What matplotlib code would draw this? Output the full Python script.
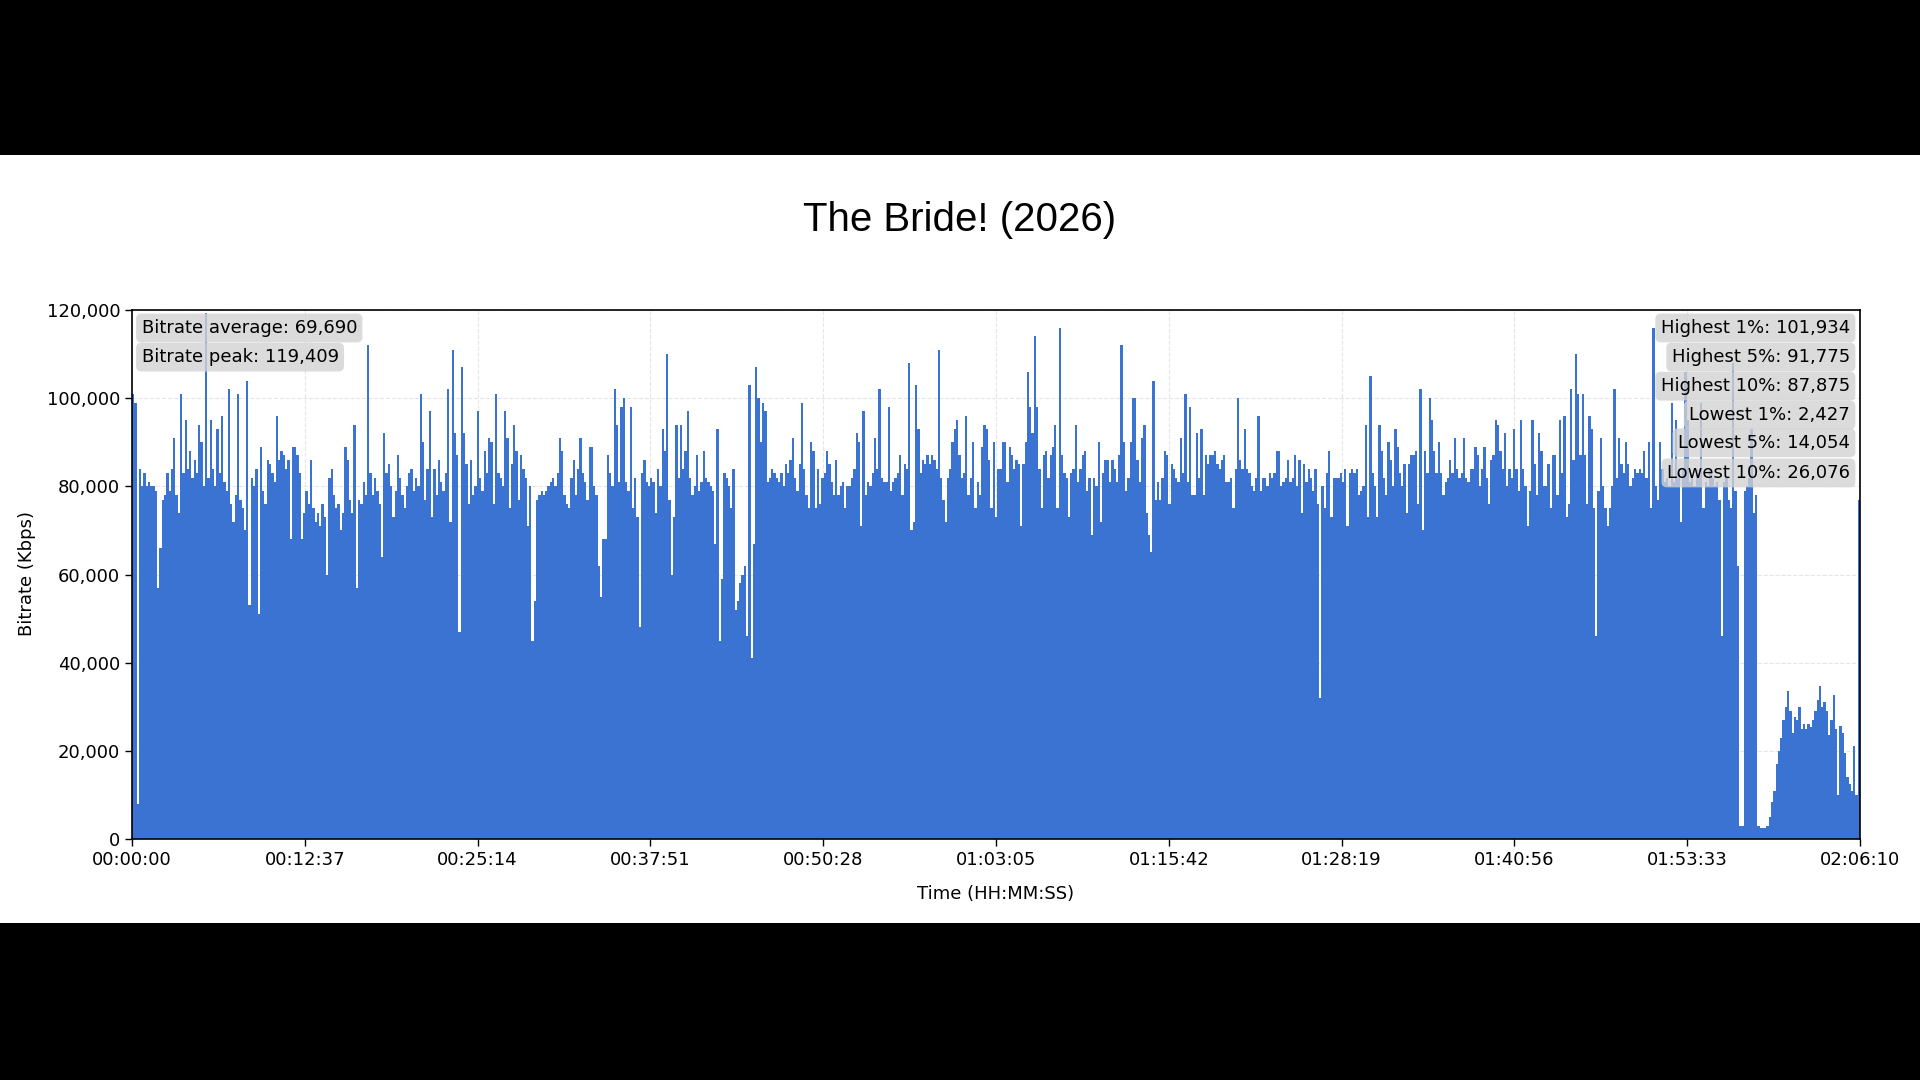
import numpy as np
import matplotlib
matplotlib.use('Agg')
import matplotlib.pyplot as plt
from matplotlib.patches import Rectangle
from matplotlib.ticker import FuncFormatter

title = 'The Bride! (2026)'
duration_s = 7570
sample_step_s = 10

# bitrate per 10 s sample, in thousands of Kbps, one line per 10 minutes
bitrate_k = [
    101, 99, 8, 84, 80, 83, 80, 81, 80, 80, 79, 57, 66, 77, 78, 83, 79, 84, 91, 78,
    74, 101, 83, 95, 84, 88, 82, 86, 83, 94, 90, 80, 119.409, 82, 95, 84, 80, 93, 83, 96,
    81, 79, 102, 76, 72, 78, 101, 77, 75, 70, 104, 53, 82, 80, 84, 51, 89, 79, 76, 86,
    # 00:10:00
    85, 83, 81, 96, 86, 88, 87, 84, 86, 68, 89, 89, 87, 83, 68, 74, 79, 76, 86, 75,
    72, 74, 71, 76, 73, 60, 82, 84, 78, 75, 76, 70, 74, 89, 86, 77, 74, 94, 57, 77,
    76, 81, 78, 112, 83, 78, 82, 79, 76, 64, 92, 83, 85, 80, 73, 79, 87, 82, 78, 75,
    # 00:20:00
    80, 83, 84, 79, 82, 80, 101, 90, 77, 84, 97, 73, 84, 78, 86, 81, 79, 83, 102, 72,
    111, 92, 87, 47, 107, 92, 85, 76, 86, 78, 80, 97, 82, 79, 88, 83, 91, 90, 76, 101,
    83, 82, 80, 97, 91, 75, 85, 94, 88, 77, 87, 84, 82, 71, 80, 45, 54, 77, 78, 79,
    # 00:30:00
    78, 79, 80, 81, 82, 80, 83, 91, 88, 78, 76, 75, 82, 86, 78, 84, 91, 83, 81, 77,
    89, 89, 80, 78, 62, 55, 68, 68, 87, 83, 80, 102, 94, 81, 98, 100, 81, 79, 98, 75,
    82, 73, 48, 83, 86, 81, 80, 82, 81, 74, 84, 80, 93, 88, 110, 77, 60, 73, 94, 82,
    # 00:40:00
    94, 84, 88, 97, 82, 78, 80, 87, 79, 81, 88, 82, 81, 80, 79, 67, 93, 45, 59, 83,
    82, 80, 75, 84, 52, 54, 58, 60, 62, 46, 103, 41, 67, 107, 100, 90, 99, 97, 81, 82,
    84, 83, 82, 81, 83, 80, 85, 83, 86, 91, 82, 79, 85, 99, 84, 78, 75, 90, 88, 75,
    # 00:50:00
    84, 76, 82, 83, 88, 85, 81, 78, 86, 78, 80, 81, 75, 80, 80, 82, 84, 92, 90, 71,
    97, 78, 81, 80, 83, 91, 84, 102, 82, 81, 81, 98, 79, 81, 82, 83, 87, 78, 85, 84,
    108, 70, 72, 103, 93, 83, 86, 85, 87, 85, 87, 86, 84, 111, 82, 77, 72, 82, 84, 90,
    # 01:00:00
    93, 95, 87, 82, 83, 96, 78, 82, 90, 75, 81, 78, 89, 94, 93, 86, 75, 90, 73, 84,
    84, 90, 90, 81, 89, 87, 84, 86, 85, 71, 85, 90, 106, 98, 92, 114, 98, 84, 75, 87,
    88, 82, 87, 89, 94, 75, 116, 87, 83, 82, 73, 83, 84, 94, 81, 84, 87, 88, 79, 82,
    # 01:10:00
    69, 82, 80, 90, 72, 83, 86, 86, 81, 86, 84, 81, 87, 112, 90, 79, 82, 90, 100, 100,
    86, 81, 91, 94, 74, 69, 65, 104, 77, 81, 77, 82, 88, 87, 76, 85, 84, 82, 81, 91,
    83, 101, 81, 98, 78, 78, 92, 82, 93, 78, 87, 85, 87, 87, 88, 85, 84, 86, 87, 81,
    # 01:20:00
    81, 82, 75, 84, 100, 86, 84, 93, 84, 83, 80, 79, 82, 96, 79, 82, 82, 80, 83, 82,
    83, 88, 88, 80, 81, 82, 86, 81, 82, 87, 80, 86, 74, 85, 81, 84, 82, 79, 84, 76,
    32, 80, 75, 83, 88, 73, 82, 82, 82, 83, 81, 84, 71, 83, 84, 83, 84, 78, 79, 80,
    # 01:30:00
    94, 73, 105, 83, 80, 73, 94, 88, 82, 78, 90, 86, 80, 93, 89, 83, 80, 85, 74, 85,
    87, 87, 88, 76, 102, 70, 88, 83, 100, 95, 88, 83, 90, 83, 78, 81, 82, 86, 83, 91,
    84, 82, 83, 91, 82, 81, 84, 84, 89, 87, 80, 84, 89, 82, 76, 86, 87, 95, 94, 88,
    # 01:40:00
    84, 92, 80, 84, 82, 93, 84, 79, 95, 84, 80, 71, 79, 95, 85, 78, 92, 88, 80, 80,
    85, 75, 87, 87, 78, 95, 83, 96, 73, 76, 102, 86, 110, 101, 87, 101, 87, 76, 96, 93,
    75, 46, 79, 91, 80, 75, 71, 75, 80, 102, 82, 91, 85, 83, 90, 85, 80, 82, 84, 83,
    # 01:50:00
    84, 83, 88, 82, 90, 75, 116, 80, 77, 90, 84, 81, 82, 80, 99, 81, 95, 83, 72, 84,
    106, 95, 81, 82, 80, 84, 82, 99, 75, 81, 80, 84, 82, 80, 81, 77, 46, 81, 82, 77,
    75, 108, 79, 62, 3, 3, 79, 80, 82, 93, 74, 78, 3, 2.5, 2.5, 2.5, 3, 5, 8.5, 11,
    # 02:00:00
    17, 20, 23, 27, 30, 33.5, 29, 24, 27.6, 27, 30, 25, 26, 25, 26, 25.5, 27, 29, 31.6, 34.7,
    30, 31, 29, 23.6, 27, 32.7, 25, 10, 25.6, 24, 19.6, 14, 12.5, 11, 21, 10, 77,
]

stats_left = ['Bitrate average: 69,690', 'Bitrate peak: 119,409']
stats_right = ['Highest 1%: 101,934', 'Highest 5%: 91,775', 'Highest 10%: 87,875',
               'Lowest 1%: 2,427', 'Lowest 5%: 14,054', 'Lowest 10%: 26,076']


def hms(sec, pos=None):
    sec = int(round(sec))
    return '{:02d}:{:02d}:{:02d}'.format(sec // 3600, (sec % 3600) // 60, sec % 60)


values = np.array(bitrate_k) * 1000
times = np.arange(len(values)) * sample_step_s

fig = plt.figure(figsize=(19.2, 10.8), dpi=100, facecolor='black')
fig.add_artist(Rectangle((0, 1 - 923 / 1080), 1, 768 / 1080, transform=fig.transFigure,
                         facecolor='white', edgecolor='none', zorder=0))

ax = fig.add_axes([132 / 1920, 1 - 839 / 1080, 1728 / 1920, 529 / 1080])
ax.bar(times, values, width=sample_step_s, align='edge', color='#3b73d3', linewidth=0)

ax.set_xlim(0, duration_s)
ax.set_ylim(0, 120000)
ax.set_xticks(np.linspace(0, duration_s, 11))
ax.xaxis.set_major_formatter(FuncFormatter(hms))
ax.set_yticks(np.arange(0, 120001, 20000))
ax.yaxis.set_major_formatter(FuncFormatter(lambda v, p: '{:,.0f}'.format(v)))
ax.tick_params(labelsize=13, length=5, width=1)
ax.set_axisbelow(True)
ax.grid(True, linestyle='--', color='#cccccc', alpha=0.5, linewidth=0.8)
for s in ax.spines.values():
    s.set_linewidth(1.2)

box = dict(boxstyle='round,pad=0.3', facecolor='lightgray', edgecolor='none', alpha=0.8)
left_rows = [0.966, 0.911]
right_rows = [0.966, 0.911, 0.856, 0.8015, 0.749, 0.692]
for txt, yy in zip(stats_left, left_rows):
    ax.text(0.0055, yy, txt, transform=ax.transAxes, ha='left', va='center', fontsize=13, bbox=box)
for txt, yy in zip(stats_right, right_rows):
    ax.text(0.9942, yy, txt, transform=ax.transAxes, ha='right', va='center', fontsize=13, bbox=box)

fig.text(0.5, 1 - 220 / 1080, title, ha='center', va='center', fontsize=29,
         family=['Liberation Sans', 'DejaVu Sans'])
fig.text(27 / 1920, 1 - 574 / 1080, 'Bitrate (Kbps)', rotation=90, ha='center', va='center', fontsize=13)
fig.text(996 / 1920, 1 - 894 / 1080, 'Time (HH:MM:SS)', ha='center', va='center', fontsize=13)

fig.savefig('out.png', dpi=100, facecolor='black')
